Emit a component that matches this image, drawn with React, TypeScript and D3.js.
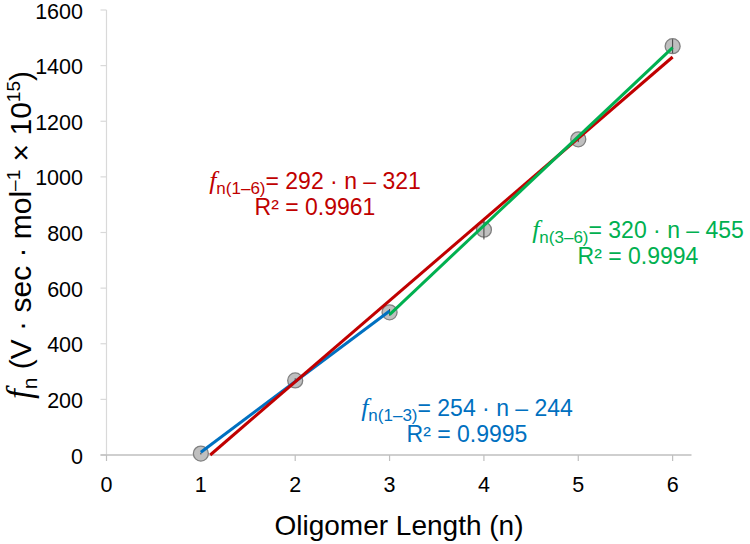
import React from 'react';
import * as d3 from 'd3';

// measured oligomer data
const oligomerLength = [1, 2, 3, 4, 5, 6];
const fnValues = [5, 268, 513, 810, 1135, 1470];
const fnErrors = [3, 8, 12, 35, 10, 25];

const xTicks = [0, 1, 2, 3, 4, 5, 6];
const yTicks = [0, 200, 400, 600, 800, 1000, 1200, 1400, 1600];

// linear fits: range, slope, intercept, R²
const fitNames = ['1–3', '1–6', '3–6'];
const fitFrom = [1, 1, 3];
const fitTo = [3, 6, 6];
const fitSlopes = [254, 292, 320];
const fitIntercepts = [-244, -321, -455];
const fitR2 = ['0.9995', '0.9961', '0.9994'];
const fitColors = ['#0070C0', '#C00000', '#00B050'];

const width = 750;
const height = 544;
const sans = '"Liberation Sans", Arial, sans-serif';
const serif = '"Liberation Serif", "Times New Roman", serif';

// label anchor points (px): center x, first baseline y
const labelPos = [
  [467, 416],
  [315, 189],
  [638, 238],
];

export default function App() {
  const x = d3.scaleLinear().domain([0, 6.2]).range([106.5, 691.5]);
  const y = d3.scaleLinear().domain([0, 1600]).range([455, 10]);

  const line = d3
    .line<[number, number]>()
    .x((d) => x(d[0]))
    .y((d) => y(d[1]));

  const fitPath = (i: number) => {
    const f = (n: number) => fitSlopes[i] * n + fitIntercepts[i];
    let start = fitFrom[i];
    // Excel clips the trendline at the axis minimum
    if (f(start) < 0) start = -fitIntercepts[i] / fitSlopes[i];
    return line([
      [start, f(start)],
      [fitTo[i], f(fitTo[i])],
    ]);
  };

  const drawOrder = [0, 1, 2];

  return (
    <svg
      width={width}
      height={height}
      style={{ position: 'absolute', left: 0, top: 0, background: '#fff' }}
      fontFamily={sans}
    >
      {/* y axis */}
      <line x1={x(0)} x2={x(0)} y1={y(1600)} y2={y(0)} stroke="#d9d9d9" strokeWidth={1.2} />
      {yTicks.map((t) => (
        <g key={'y' + t}>
          <line x1={x(0) - 6} x2={x(0)} y1={y(t)} y2={y(t)} stroke="#d9d9d9" strokeWidth={1.2} />
          <text x={83} y={y(t) + 1} dy="0.35em" textAnchor="end" fontSize={21.5} fill="#000">
            {t}
          </text>
        </g>
      ))}

      {/* x axis */}
      <line x1={x(0) - 6} x2={x(6.2)} y1={y(0)} y2={y(0)} stroke="#bfbfbf" strokeWidth={1.5} />
      {xTicks.map((t) => (
        <g key={'x' + t}>
          <line x1={x(t)} x2={x(t)} y1={y(0)} y2={y(0) + 6} stroke="#bfbfbf" strokeWidth={1.2} />
          <text x={x(t)} y={492} textAnchor="middle" fontSize={21.5} fill="#000">
            {t}
          </text>
        </g>
      ))}

      <text x={399} y={535} textAnchor="middle" fontSize={28} fill="#000">
        Oligomer Length (n)
      </text>

      <text transform="translate(31,235) rotate(-90)" textAnchor="middle" fontSize={30} fill="#000">
        <tspan fontFamily={serif} fontStyle="italic" fontSize={35}>f</tspan>
        <tspan fontSize={21} dy={6}>n</tspan>
        <tspan dy={-6}>{' (V · sec · mol'}</tspan>
        <tspan fontSize={19} dy={-11}>–1</tspan>
        <tspan dy={11}>{' × 10'}</tspan>
        <tspan fontSize={19} dy={-11}>15</tspan>
        <tspan dy={11}>)</tspan>
      </text>

      {/* data markers */}
      {oligomerLength.map((n, i) => (
        <circle
          key={'m' + n}
          cx={x(n)}
          cy={y(fnValues[i])}
          r={7.5}
          fill="#bfbfbf"
          stroke="#808080"
          strokeWidth={1.3}
        />
      ))}
      {oligomerLength.map((n, i) => (
        <line
          key={'e' + n}
          x1={x(n)}
          x2={x(n)}
          y1={y(fnValues[i] - fnErrors[i])}
          y2={y(fnValues[i] + fnErrors[i])}
          stroke="#404040"
          strokeWidth={1}
        />
      ))}

      {/* trendlines */}
      {drawOrder.map((i) => (
        <path key={'f' + i} d={fitPath(i) || ''} fill="none" stroke={fitColors[i]} strokeWidth={3} />
      ))}

      {/* equations */}
      {fitNames.map((name, i) => (
        <g key={'l' + i} fill={fitColors[i]}>
          <text x={labelPos[i][0]} y={labelPos[i][1]} textAnchor="middle" fontSize={23}>
            <tspan fontFamily={serif} fontStyle="italic" fontSize={26}>f</tspan>
            <tspan fontSize={17} dy={5}>{'n(' + name + ')'}</tspan>
            <tspan dy={-5}>{'= ' + fitSlopes[i] + ' · n – ' + Math.abs(fitIntercepts[i])}</tspan>
          </text>
          <text x={labelPos[i][0]} y={labelPos[i][1] + 26} textAnchor="middle" fontSize={23}>
            {'R² = ' + fitR2[i]}
          </text>
        </g>
      ))}
    </svg>
  );
}
